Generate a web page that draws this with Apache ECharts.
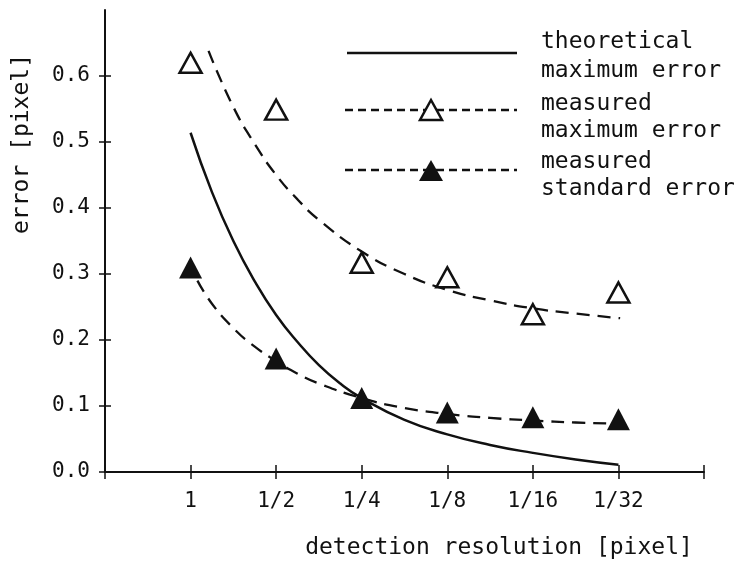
<!DOCTYPE html>
<html>
<head>
<meta charset="utf-8">
<script src="https://cdn.jsdelivr.net/npm/echarts@6/dist/echarts.min.js"></script>
<style>
  html, body { margin: 0; padding: 0; background: #fff; }
  #chart { width: 741px; height: 562px; }
</style>
</head>
<body>
<div id="chart"></div>
<script>
// tick labels on the x axis (position 0 and 7 are empty ends)
const resolutions = ['', '1', '1/2', '1/4', '1/8', '1/16', '1/32', ''];
const yTicks = [0, 0.1, 0.2, 0.3, 0.4, 0.5, 0.6];

// measured points, one per resolution 1 .. 1/32
const measuredMax = [0.62, 0.549, 0.317, 0.295, 0.239, 0.272];
const measuredStd = [0.31, 0.172, 0.112, 0.09, 0.083, 0.08];

// curves (x = tick position)
const theoryX = [1.0, 1.25, 1.5, 1.75, 2.0, 2.25, 2.5, 2.75, 3.0, 3.5, 4.0, 4.5, 5.0, 5.5, 6.0];
const theoryY = [0.514, 0.424, 0.35, 0.289, 0.238, 0.197, 0.162, 0.134, 0.112, 0.079, 0.057, 0.041, 0.029, 0.019, 0.011];
const maxFitX = [1.21, 1.5, 1.75, 2.0, 2.25, 2.5, 3.0, 3.5, 4.0, 4.5, 5.0, 5.5, 6.02];
const maxFitY = [0.638, 0.553, 0.497, 0.45, 0.413, 0.382, 0.334, 0.30, 0.276, 0.26, 0.248, 0.24, 0.233];
const stdFitX = [1.08, 1.25, 1.5, 1.75, 2.0, 2.25, 2.5, 3.0, 3.5, 4.0, 4.5, 5.0, 5.5, 6.02];
const stdFitY = [0.29, 0.255, 0.218, 0.19, 0.168, 0.149, 0.134, 0.112, 0.097, 0.088, 0.082, 0.078, 0.075, 0.073];

const ink = '#111';
const font = 'DejaVu Sans Mono';

function pairs(xs, ys) {
  return xs.map((x, i) => [x, ys[i]]);
}
function points(vals) {
  return vals.map((v, i) => [i + 1, v]);
}

const chart = echarts.init(document.getElementById('chart'), null, { renderer: 'canvas' });

// shared axis pieces, one copy ticks outward and one inward so they cross the line
function xAxisCfg(inside) {
  return {
    type: 'value', min: 0, max: 7, interval: 1, position: 'bottom',
    splitLine: { show: false },
    axisLine: { show: !inside, lineStyle: { color: ink, width: 2 } },
    axisTick: { show: true, inside: inside, length: 7, lineStyle: { color: ink, width: 1.5 } },
    axisLabel: {
      show: !inside, margin: 19, color: ink, fontFamily: font, fontSize: 21,
      formatter: (v) => resolutions[v] || ''
    }
  };
}
function yAxisCfg(inside) {
  return {
    type: 'value', min: 0, max: 0.7, position: 'left',
    splitLine: { show: false },
    axisLine: { show: !inside, lineStyle: { color: ink, width: 2 } },
    axisTick: { show: true, inside: inside, length: 6, customValues: yTicks, lineStyle: { color: ink, width: 1.5 } },
    axisLabel: {
      show: !inside, margin: 15, color: ink, fontFamily: font, fontSize: 21,
      customValues: yTicks, formatter: (v) => v.toFixed(1)
    }
  };
}

const txtFont = '23px "' + font + '"';
const txt = (x, y, s) => ({
  type: 'text', x: x, y: y,
  style: { text: s, fill: ink, font: txtFont, textVerticalAlign: 'middle' }
});

chart.setOption({
  backgroundColor: '#fff',
  animation: false,
  grid: { left: 105, right: 37, top: 10, bottom: 90 },
  xAxis: [xAxisCfg(false), xAxisCfg(true)],
  yAxis: [yAxisCfg(false), yAxisCfg(true)],
  series: [
    {
      name: 'theoretical maximum error', type: 'line', smooth: 0.5, symbol: 'none',
      data: pairs(theoryX, theoryY),
      lineStyle: { color: ink, width: 2.5 }
    },
    {
      name: 'max fit', type: 'line', smooth: 0.5, symbol: 'none',
      data: pairs(maxFitX, maxFitY),
      lineStyle: { color: ink, width: 2.3, type: [13, 8] }
    },
    {
      name: 'std fit', type: 'line', smooth: 0.5, symbol: 'none',
      data: pairs(stdFitX, stdFitY),
      lineStyle: { color: ink, width: 2.3, type: [13, 8] }
    },
    {
      name: 'measured maximum error', type: 'scatter', symbol: 'triangle', symbolSize: [22, 20],
      data: points(measuredMax), z: 5,
      itemStyle: { color: 'rgba(255,255,255,0)', borderColor: ink, borderWidth: 2.5, opacity: 1 }
    },
    {
      name: 'measured standard error', type: 'scatter', symbol: 'triangle', symbolSize: [23, 22],
      data: points(measuredStd), z: 5,
      itemStyle: { color: ink, opacity: 1 }
    }
  ],
  graphic: [
    // axis names
    {
      type: 'text', x: 22, y: 144, rotation: Math.PI / 2,
      style: { text: 'error [pixel]', fill: ink, font: txtFont, textAlign: 'center', textVerticalAlign: 'middle' }
    },
    {
      type: 'text', x: 499, y: 548,
      style: { text: 'detection resolution [pixel]', fill: ink, font: txtFont, textAlign: 'center', textVerticalAlign: 'middle' }
    },
    // legend
    { type: 'line', shape: { x1: 347, y1: 53, x2: 517, y2: 53 }, style: { stroke: ink, lineWidth: 2.5 } },
    { type: 'line', shape: { x1: 345, y1: 110, x2: 517, y2: 110 }, style: { stroke: ink, lineWidth: 2.3, lineDash: [8, 5] } },
    { type: 'polygon', shape: { points: [[420, 120], [442, 120], [431, 100]] }, style: { fill: '#fff', stroke: ink, lineWidth: 2.5 }, z: 10 },
    { type: 'line', shape: { x1: 345, y1: 170, x2: 517, y2: 170 }, style: { stroke: ink, lineWidth: 2.3, lineDash: [8, 5] } },
    { type: 'polygon', shape: { points: [[419, 181], [443, 181], [431, 160]] }, style: { fill: ink }, z: 10 },
    txt(541, 42, 'theoretical'),
    txt(541, 71, 'maximum error'),
    txt(541, 104, 'measured'),
    txt(541, 131, 'maximum error'),
    txt(541, 162, 'measured'),
    txt(541, 189, 'standard error')
  ]
});
</script>
</body>
</html>
